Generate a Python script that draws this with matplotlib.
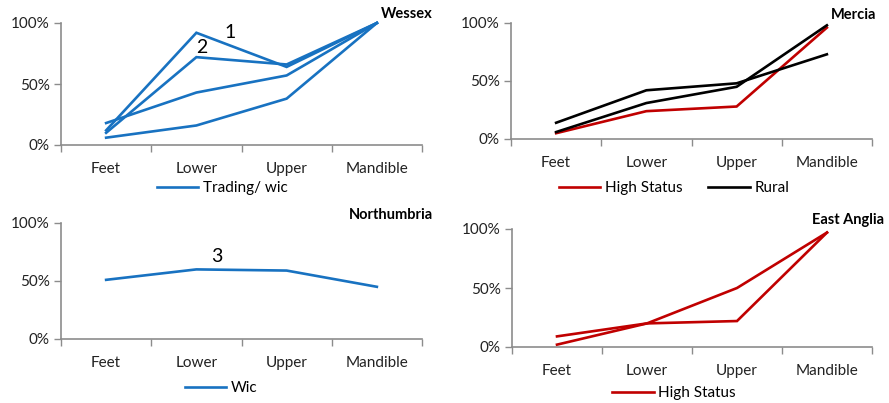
#!/usr/bin/env python3

import matplotlib
import matplotlib.pyplot as plt
from matplotlib.ticker import PercentFormatter, FixedLocator
from matplotlib.lines import Line2D

matplotlib.use('Agg')

plt.rcParams['font.family'] = ['Lato', 'DejaVu Sans']

categories = ["Feet", "Lower", "Upper", "Mandible"]

# Wessex - trading/wic sites
wessex_1 = [0.12, 0.92, 0.64, 1.00]
wessex_2 = [0.10, 0.72, 0.66, 1.00]
wessex_3 = [0.18, 0.43, 0.57, 1.00]
wessex_4 = [0.06, 0.16, 0.38, 1.00]

# Mercia
mercia_high = [0.05, 0.24, 0.28, 0.96]
mercia_rural_1 = [0.14, 0.42, 0.48, 0.73]
mercia_rural_2 = [0.06, 0.31, 0.45, 0.98]

# Northumbria
northumbria_wic = [0.51, 0.60, 0.59, 0.45]

# East Anglia
anglia_high_1 = [0.09, 0.20, 0.22, 0.97]
anglia_high_2 = [0.02, 0.20, 0.50, 0.97]

BLUE = "#1872c1"
RED = "#c00000"
BLACK = "#000000"
GREY = "#8c8c8c"
LW = 1.9

W, H = 889, 403


def make_ax(fig, left, right, top, bottom):
    ax = fig.add_axes([left / W, 1 - bottom / H, (right - left) / W, (bottom - top) / H])
    ax.set_xlim(-0.5, 3.5)
    ax.set_ylim(0, 1)
    ax.set_yticks([0, 0.5, 1.0])
    ax.yaxis.set_major_formatter(PercentFormatter(1.0, decimals=0))
    ax.xaxis.set_major_locator(FixedLocator([-0.5, 0.5, 1.5, 2.5, 3.5]))
    ax.xaxis.set_minor_locator(FixedLocator([0, 1, 2, 3]))
    ax.set_xticklabels([])
    ax.set_xticklabels(categories, minor=True)
    ax.tick_params(axis='x', which='major', length=5, color=GREY, width=1)
    ax.tick_params(axis='x', which='minor', length=0, pad=12, labelsize=11, colors="#222222")
    ax.tick_params(axis='y', length=5, color=GREY, width=1, labelsize=11, colors="#222222", pad=3)
    for s in ["top", "right"]:
        ax.spines[s].set_visible(False)
    for s in ["left", "bottom"]:
        ax.spines[s].set_color(GREY)
        ax.spines[s].set_linewidth(1.2)
    return ax


def draw_lines(ax, series, color):
    x = range(len(categories))
    for s in series:
        ax.plot(x, s, color=color, linewidth=LW, clip_on=False, solid_joinstyle='miter')


def add_legend(fig, entries, x, y):
    handles = [Line2D([0], [0], color=c, linewidth=LW) for _, c in entries]
    labels = [l for l, _ in entries]
    fig.legend(handles, labels, loc='center', bbox_to_anchor=(x / W, 1 - y / H),
               ncol=len(entries), frameon=False, fontsize=11, handlelength=2.7,
               handletextpad=0.3, columnspacing=1.7)


def main():
    fig = plt.figure(figsize=(8.89, 4.03), dpi=100)

    # Wessex
    ax1 = make_ax(fig, 61, 422, 23, 145)
    draw_lines(ax1, [wessex_1, wessex_2, wessex_3, wessex_4], BLUE)
    fig.text(433 / W, 1 - 14 / H, "Wessex", ha='right', va='center', fontsize=10.5, fontweight='bold')
    ax1.annotate("1", xy=(1, wessex_1[1]), xytext=(24, 0), textcoords='offset points',
                 fontsize=14, ha='center', va='center')
    ax1.annotate("2", xy=(1, wessex_2[1]), xytext=(4, 7), textcoords='offset points',
                 fontsize=14, ha='center', va='center')
    add_legend(fig, [("Trading/ wic", BLUE)], 222, 188)

    # Mercia
    ax2 = make_ax(fig, 511, 872, 23, 139)
    draw_lines(ax2, [mercia_high], RED)
    draw_lines(ax2, [mercia_rural_1, mercia_rural_2], BLACK)
    fig.text(876 / W, 1 - 15 / H, "Mercia", ha='right', va='center', fontsize=10.5, fontweight='bold')
    add_legend(fig, [("High Status", RED), ("Rural", BLACK)], 674, 188)

    # Northumbria
    ax3 = make_ax(fig, 61, 422, 223, 339)
    draw_lines(ax3, [northumbria_wic], BLUE)
    fig.text(433 / W, 1 - 215 / H, "Northumbria", ha='right', va='center', fontsize=10.5, fontweight='bold')
    ax3.annotate("3", xy=(1, northumbria_wic[1]), xytext=(15, 9), textcoords='offset points',
                 fontsize=14, ha='center', va='center')
    add_legend(fig, [("Wic", BLUE)], 221, 388)

    # East Anglia
    ax4 = make_ax(fig, 512, 872, 229, 347)
    draw_lines(ax4, [anglia_high_1, anglia_high_2], RED)
    fig.text(884 / W, 1 - 220 / H, "East Anglia", ha='right', va='center', fontsize=10.5, fontweight='bold')
    add_legend(fig, [("High Status", RED)], 674, 393)

    fig.savefig("out.png", dpi=100)


if __name__ == "__main__":
    main()
